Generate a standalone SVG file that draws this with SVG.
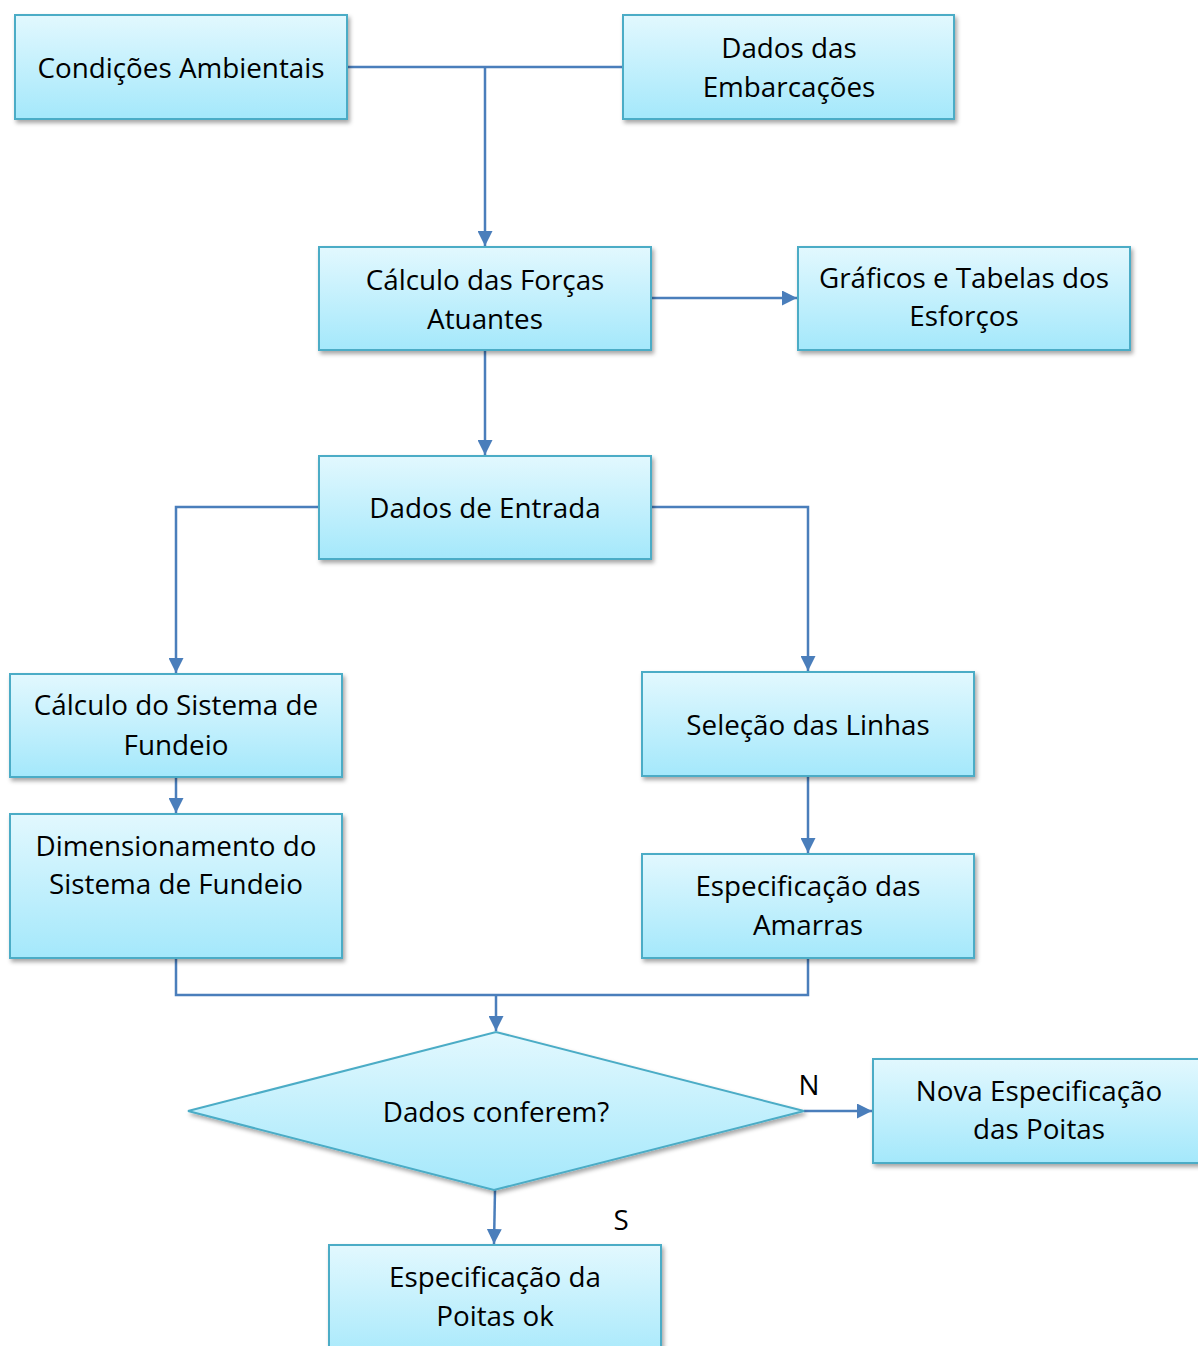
<svg xmlns="http://www.w3.org/2000/svg" width="1198" height="1346" viewBox="0 0 1198 1346">
<style>
.box{fill:url(#g);stroke:#4bacc6;stroke-width:2;filter:url(#sh)}
.t{font-family:"Open Sans","Liberation Sans",sans-serif;font-size:27.8px;fill:#000;text-anchor:middle}
.c{fill:none;stroke:#4a7ebb;stroke-width:2.5}
</style>
<defs>
<linearGradient id="g" x1="0" y1="0" x2="0" y2="1">
<stop offset="0" stop-color="#e2f8fe"/>
<stop offset="1" stop-color="#a4e8fb"/>
</linearGradient>
<filter id="sh" x="-10%" y="-10%" width="130%" height="140%">
<feDropShadow dx="2" dy="3" stdDeviation="2" flood-color="#000" flood-opacity="0.35"/>
</filter>
<marker id="a" viewBox="0 0 10 10" refX="10" refY="5" markerWidth="6" markerHeight="6" orient="auto" markerUnits="strokeWidth">
<path d="M0,0 L10,5 L0,10 Z" fill="#4a7ebb"/>
</marker>
</defs>
<g id="connectors">
<path class="c" d="M347,67 H623"/>
<path class="c" d="M485,67 V246" marker-end="url(#a)"/>
<path class="c" d="M651,298 H797" marker-end="url(#a)"/>
<path class="c" d="M485,350 V455" marker-end="url(#a)"/>
<path class="c" d="M319,507 H176 V673" marker-end="url(#a)"/>
<path class="c" d="M651,507 H808 V671" marker-end="url(#a)"/>
<path class="c" d="M176,777 V813" marker-end="url(#a)"/>
<path class="c" d="M808,776 V853" marker-end="url(#a)"/>
<path class="c" d="M176,958 V995 H808 V958"/>
<path class="c" d="M496,995 V1031" marker-end="url(#a)"/>
<path class="c" d="M804,1111 H872" marker-end="url(#a)"/>
<path class="c" d="M495,1190 L494,1244" marker-end="url(#a)"/>
</g>
<g id="n1"><rect class="box" x="15" y="15" width="332" height="104"/><text class="t" x="181" y="78">Condições Ambientais</text></g>
<g id="n2"><rect class="box" x="623" y="15" width="331" height="104"/><text class="t" x="789" y="58">Dados das</text><text class="t" x="789" y="97">Embarcações</text></g>
<g id="n3"><rect class="box" x="319" y="247" width="332" height="103"/><text class="t" x="485" y="290">Cálculo das Forças</text><text class="t" x="485" y="329">Atuantes</text></g>
<g id="n4"><rect class="box" x="798" y="247" width="332" height="103"/><text class="t" x="964" y="288">Gráficos e Tabelas dos</text><text class="t" x="964" y="326">Esforços</text></g>
<g id="n5"><rect class="box" x="319" y="456" width="332" height="103"/><text class="t" x="485" y="518">Dados de Entrada</text></g>
<g id="n6"><rect class="box" x="10" y="674" width="332" height="103"/><text class="t" x="176" y="715">Cálculo do Sistema de</text><text class="t" x="176" y="755">Fundeio</text></g>
<g id="n7"><rect class="box" x="10" y="814" width="332" height="144"/><text class="t" x="176" y="856">Dimensionamento do</text><text class="t" x="176" y="894">Sistema de Fundeio</text></g>
<g id="n8"><rect class="box" x="642" y="672" width="332" height="104"/><text class="t" x="808" y="735">Seleção das Linhas</text></g>
<g id="n9"><rect class="box" x="642" y="854" width="332" height="104"/><text class="t" x="808" y="896">Especificação das</text><text class="t" x="808" y="935">Amarras</text></g>
<g id="n10"><polygon class="box" points="188,1111 496,1032 804,1111 494,1190"/><text class="t" x="496" y="1122">Dados conferem?</text></g>
<g id="n11"><rect class="box" x="873" y="1059" width="340" height="104"/><text class="t" x="1039" y="1101">Nova Especificação</text><text class="t" x="1039" y="1139">das Poitas</text></g>
<g id="n12"><rect class="box" x="329" y="1245" width="332" height="120"/><text class="t" x="495" y="1287">Especificação da</text><text class="t" x="495" y="1326">Poitas ok</text></g>
<text class="t" x="809" y="1095">N</text>
<text class="t" x="621" y="1230">S</text>
</svg>
